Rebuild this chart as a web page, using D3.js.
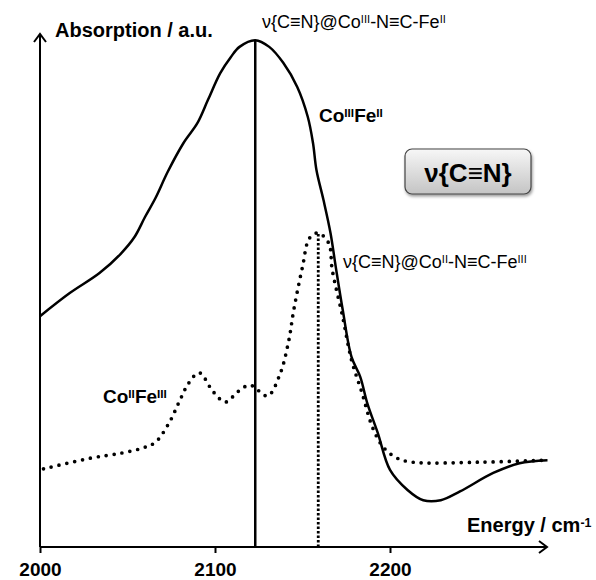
<!DOCTYPE html>
<html>
<head>
<meta charset="utf-8">
<script src="https://cdn.jsdelivr.net/npm/d3@7"></script>
<style>
  body { margin: 0; background: #fff; }
  svg { display: block; font-family: "Liberation Sans", Arial, sans-serif; }
</style>
</head>
<body>
<div id="chart"></div>
<script>
// spectra (energy in cm-1, absorption in a.u.)
const solidEnergy = [2000, 2017, 2034, 2046, 2054, 2060, 2066, 2073, 2082, 2090, 2096, 2103, 2109, 2114, 2123,
  2131, 2139, 2147, 2153, 2156, 2158, 2162, 2166, 2169, 2173, 2178, 2183, 2187, 2193, 2200, 2210, 2219, 2229,
  2240, 2259, 2274, 2290];
const solidAbs = [44.9, 49.4, 53.3, 57.0, 60.3, 64.2, 67.9, 73.0, 78.6, 82.5, 87.0, 92.2, 95.3, 97.3, 98.6,
  97.3, 94.2, 89.5, 83.7, 78.6, 73.3, 67.5, 61.1, 54.5, 46.1, 37.0, 33.1, 28.0, 22.2, 15.0, 11.1, 9.1, 9.1,
  10.8, 14.4, 16.3, 16.9];

const dottedEnergy = [2002, 2029, 2047, 2059, 2066, 2074, 2080, 2085, 2091, 2099, 2106, 2113, 2120, 2130, 2137,
  2142, 2145, 2150, 2154, 2159, 2165, 2167, 2173, 2178, 2184, 2190, 2196, 2204, 2213, 2251, 2290];
const dottedAbs = [15.2, 17.3, 18.3, 19.3, 20.4, 24.3, 28.6, 31.9, 33.9, 30.2, 28.2, 30.2, 31.5, 29.4, 33.5,
  39.9, 46.1, 54.5, 60.1, 61.1, 59.1, 53.9, 44.7, 36.4, 30.0, 23.3, 19.5, 17.3, 16.5, 16.5, 16.9];

// band positions
const peakCoIII = 2123;   // Co(III)-N≡C-Fe(II)
const peakCoII = 2159;    // Co(II)-N≡C-Fe(III)

const xTicks = [2000, 2100, 2200];

const W = 596, H = 580;
const x = d3.scaleLinear().domain([2000, 2290]).range([40, 547.5]);
const y = d3.scaleLinear().domain([0, 100]).range([547, 33]);

const svg = d3.select("#chart").append("svg")
  .attr("width", W).attr("height", H);

const defs = svg.append("defs");
const grad = defs.append("linearGradient").attr("id", "boxGrad")
  .attr("x1", 0).attr("y1", 0).attr("x2", 0).attr("y2", 1);
grad.append("stop").attr("offset", "0%").attr("stop-color", "#f7f7f7");
grad.append("stop").attr("offset", "100%").attr("stop-color", "#c4c4c4");
const shadow = defs.append("filter").attr("id", "shadow")
  .attr("x", "-20%").attr("y", "-20%").attr("width", "140%").attr("height", "160%");
shadow.append("feDropShadow").attr("dx", 1).attr("dy", 2).attr("stdDeviation", 1.5)
  .attr("flood-color", "#000").attr("flood-opacity", 0.4);

// axes
const xAxis = d3.axisBottom(x).tickValues(xTicks).tickSize(6).tickFormat(d3.format("d"));
const gx = svg.append("g").attr("transform", `translate(0,${y(0)})`).call(xAxis);
gx.select(".domain").remove();
gx.selectAll(".tick line").attr("stroke", "#000").attr("stroke-width", 2);
gx.selectAll(".tick text")
  .attr("y", 16).attr("dy", "0.71em")
  .attr("font-size", 19).attr("font-weight", "bold")
  .attr("font-family", "Liberation Sans, Arial, sans-serif").attr("fill", "#000");

const axisG = svg.append("g").attr("stroke", "#000").attr("stroke-width", 2).attr("fill", "none");
axisG.append("line").attr("x1", x(2000)).attr("x2", 547).attr("y1", y(0)).attr("y2", y(0));
axisG.append("path").attr("d", `M539,${y(0) - 6}L547,${y(0)}L539,${y(0) + 6}`);
axisG.append("line").attr("x1", x(2000)).attr("x2", x(2000)).attr("y1", y(0)).attr("y2", 34);
axisG.append("path").attr("d", `M${x(2000) - 6},42L${x(2000)},34L${x(2000) + 6},42`);

// vertical band markers
svg.append("line")
  .attr("x1", x(peakCoIII)).attr("x2", x(peakCoIII))
  .attr("y1", y(0)).attr("y2", y(98.6))
  .attr("stroke", "#000").attr("stroke-width", 2.5);
svg.append("line")
  .attr("x1", x(peakCoII)).attr("x2", x(peakCoII))
  .attr("y1", y(0)).attr("y2", y(61))
  .attr("stroke", "#000").attr("stroke-width", 2.8)
  .attr("stroke-dasharray", "2.5,2");

// spectra
const line = d3.line().x(d => x(d[0])).y(d => y(d[1])).curve(d3.curveCatmullRom.alpha(0.5));

svg.append("path")
  .datum(solidEnergy.map((e, i) => [e, solidAbs[i]]))
  .attr("d", line)
  .attr("fill", "none").attr("stroke", "#000").attr("stroke-width", 2.5);

svg.append("path")
  .datum(dottedEnergy.map((e, i) => [e, dottedAbs[i]]))
  .attr("d", line)
  .attr("fill", "none").attr("stroke", "#000").attr("stroke-width", 3.7)
  .attr("stroke-linecap", "round").attr("stroke-dasharray", "0,8");

// text helper: parts = [[text, isSup], ...]
function richText(xPos, yPos, parts, size, weight, anchor) {
  const t = svg.append("text")
    .attr("x", xPos).attr("y", yPos)
    .attr("font-size", size).attr("font-weight", weight || "normal")
    .attr("text-anchor", anchor || "start").attr("fill", "#000");
  parts.forEach(p => {
    const ts = t.append("tspan").text(p[0]);
    if (p[1]) ts.attr("font-size", size * 0.62).attr("baseline-shift", "45%");
  });
  return t;
}

richText(55, 37, [["Absorption / a.u.", false]], 20, "bold");
richText(467, 532, [["Energy / cm", false], ["-1", true]], 20, "bold");

richText(262, 28, [["ν{C≡N}@Co", false], ["III", true], ["-N≡C-Fe", false], ["II", true]], 18);
richText(343, 268, [["ν{C≡N}@Co", false], ["II", true], ["-N≡C-Fe", false], ["III", true]], 18);

richText(319, 122, [["Co", false], ["III", true], ["Fe", false], ["II", true]], 19, "bold");
richText(103, 403, [["Co", false], ["II", true], ["Fe", false], ["III", true]], 19, "bold");

// legend-style box
svg.append("rect")
  .attr("x", 405).attr("y", 149).attr("width", 126).attr("height", 45)
  .attr("rx", 7).attr("ry", 7)
  .attr("fill", "url(#boxGrad)").attr("stroke", "#444").attr("stroke-width", 1.2)
  .attr("filter", "url(#shadow)");
richText(468, 182, [["ν{C≡N}", false]], 26, "bold", "middle");
</script>
</body>
</html>
